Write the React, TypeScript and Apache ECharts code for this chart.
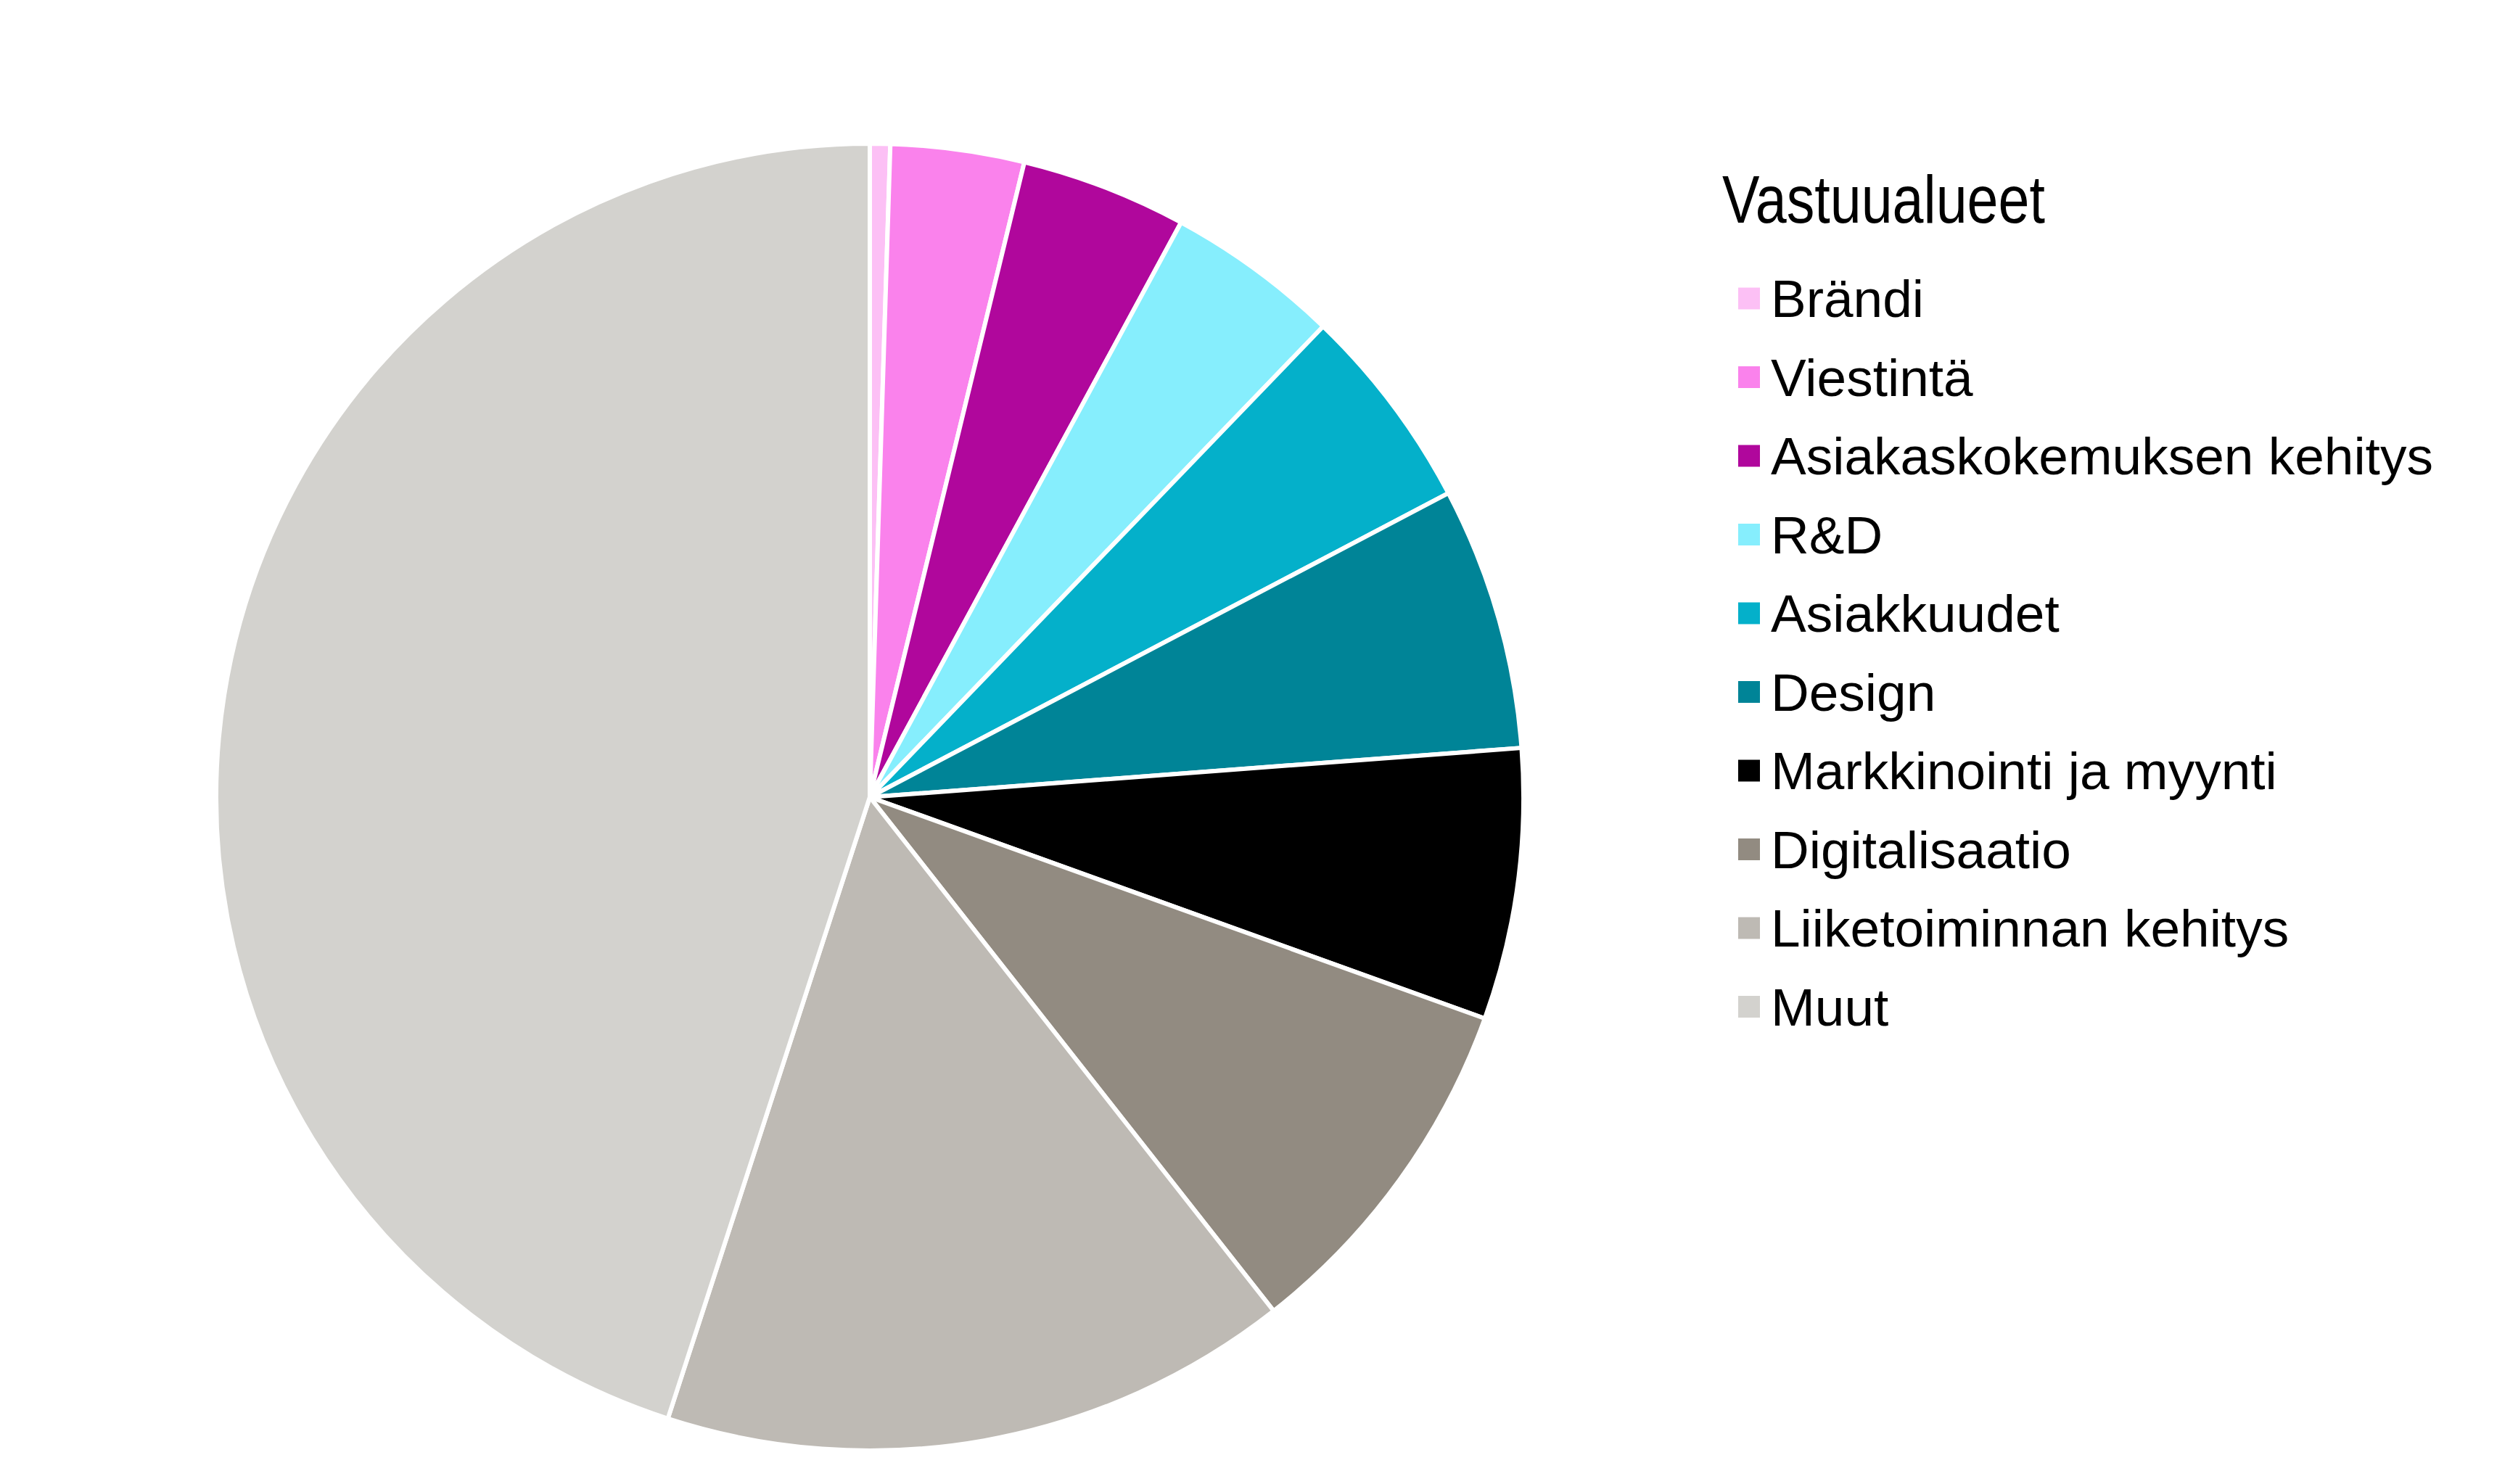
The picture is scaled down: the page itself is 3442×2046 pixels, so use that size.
import React, { useEffect, useRef } from "react";
import * as echarts from "echarts";

const legendTitle = "Vastuualueet";
const categories = [
  "Brändi",
  "Viestintä",
  "Asiakaskokemuksen kehitys",
  "R&D",
  "Asiakkuudet",
  "Design",
  "Markkinointi ja myynti",
  "Digitalisaatio",
  "Liiketoiminnan kehitys",
  "Muut",
];
const shares = [0.5, 3.3, 4.1, 4.3, 5.1, 6.5, 6.7, 8.9, 15.6, 45.0];
const colors = [
  "#fcc0f5",
  "#fa82ec",
  "#b0079c",
  "#86eefd",
  "#04b0ca",
  "#008497",
  "#000000",
  "#928b81",
  "#bebab4",
  "#d3d2ce",
];

export default function App() {
  const ref = useRef<HTMLDivElement>(null);
  useEffect(() => {
    if (!ref.current) return;
    const chart = echarts.init(ref.current, undefined, { renderer: "svg" });
    chart.setOption({
      animation: false,
      backgroundColor: "#ffffff",
      color: colors,
      legend: {
        orient: "vertical",
        left: 2391,
        top: 370,
        itemWidth: 30,
        itemHeight: 30,
        itemGap: 35.5,
        icon: "rect",
        selectedMode: false,
        itemStyle: { borderWidth: 0 },
        textStyle: {
          fontFamily: "Liberation Sans, Arial, sans-serif",
          fontSize: 73,
          lineHeight: 73,
          color: "#000000",
          padding: [0, 0, 0, 10],
        },
        data: categories,
      },
      graphic: [
        {
          type: "text",
          x: 2374,
          y: 228,
          scaleX: 0.83,
          style: {
            text: legendTitle,
            fontFamily: "Liberation Sans, Arial, sans-serif",
            fontSize: 93,
            fill: "#000000",
          },
        },
      ],
      series: [
        {
          type: "pie",
          center: [1199, 1099],
          radius: 901,
          startAngle: 90,
          clockwise: true,
          label: { show: false },
          labelLine: { show: false },
          emphasis: { disabled: true },
          itemStyle: { borderColor: "#ffffff", borderWidth: 6 },
          data: categories.map((name, i) => ({ name, value: shares[i] })),
        },
      ],
    });
    return () => chart.dispose();
  }, []);
  return (
    <div
      ref={ref}
      style={{ position: "fixed", left: 0, top: 0, width: 3442, height: 2046 }}
    />
  );
}
